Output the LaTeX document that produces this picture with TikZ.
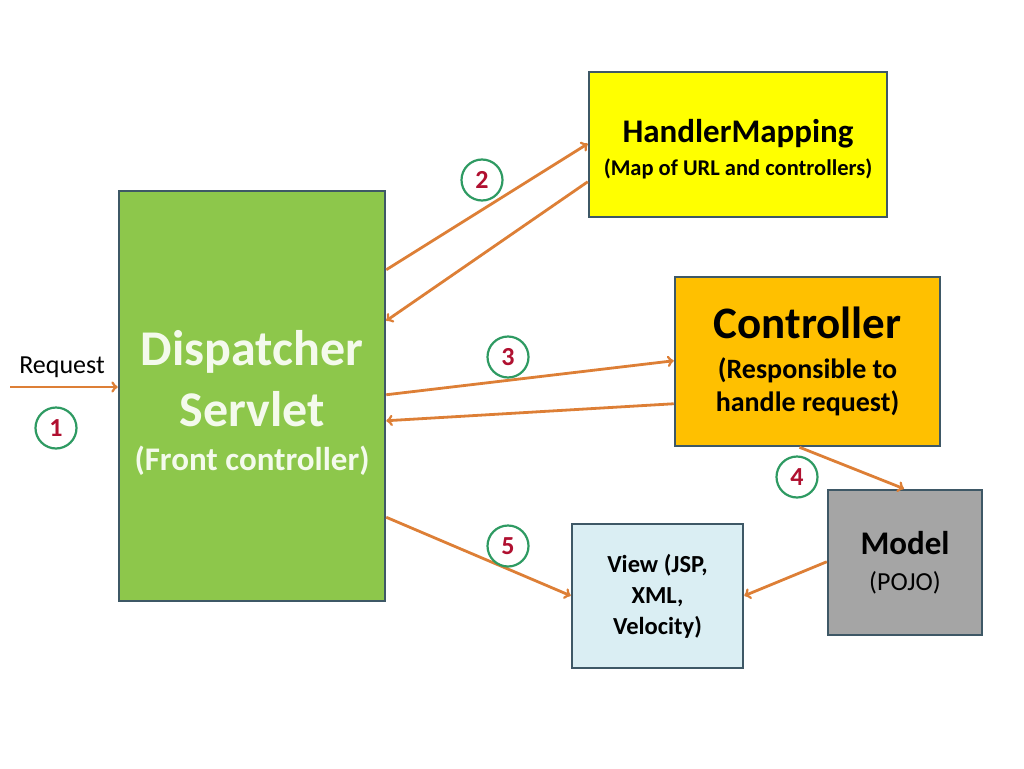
\documentclass[tikz,border=0pt]{standalone}
\usepackage{fontspec}
\setmainfont{Carlito}
\usepackage{tikz}

\definecolor{boxline}{HTML}{3E5866}
\definecolor{dsgreen}{HTML}{8DC74B}
\definecolor{dstext}{HTML}{F4FAEC}
\definecolor{hmyellow}{HTML}{FFFF00}
\definecolor{ctorange}{HTML}{FFC000}
\definecolor{mdgray}{HTML}{A5A5A5}
\definecolor{vwblue}{HTML}{DAEEF3}
\definecolor{arrorange}{HTML}{DD7F36}
\definecolor{stepgreen}{HTML}{2E9A62}
\definecolor{stepred}{HTML}{B01030}

\tikzset{
  box/.style={draw=boxline,line width=2.5pt,inner sep=0pt,align=center},
  flow/.style={->,arrorange,line width=2.8pt},
  stepmark/.style={draw=stepgreen,line width=2.2pt,circle,minimum size=41pt,inner sep=0pt,text=stepred,font=\fontsize{26}{26}\selectfont\bfseries}
}

\begin{document}
\begin{tikzpicture}[x=1pt,y=-1pt]
    \useasboundingbox (0,0) rectangle (1024,768);

    % boxes
    \node[box,fill=dsgreen,minimum width=266pt,minimum height=410pt,text=dstext,font=\bfseries\fontsize{50}{61}\selectfont] (dispatcher) at (252,396)
        {\rule{0pt}{48pt}Dispatcher\\ Servlet\\[-17pt] \fontsize{33}{40}\selectfont (Front controller)};
    \node[box,fill=hmyellow,minimum width=298pt,minimum height=145pt,font=\bfseries\fontsize{33}{33}\selectfont] (handler) at (738,144.5)
        {\rule{0pt}{33pt}HandlerMapping\\ \fontsize{22.5}{27}\selectfont (Map of URL and controllers)};
    \node[box,fill=ctorange,minimum width=265pt,minimum height=169pt,font=\bfseries\fontsize{45}{45}\selectfont] (controller) at (807.5,361.5)
        {Controller\\[-5pt] \fontsize{28}{33}\selectfont (Responsible to\\[-12pt] \fontsize{28}{33}\selectfont handle request)};
    \node[box,fill=mdgray,minimum width=154pt,minimum height=145pt,font=\bfseries\fontsize{33}{36}\selectfont] (model) at (905,562.5)
        {Model\\ \mdseries\fontsize{26}{30}\selectfont (POJO)};
    \node[box,fill=vwblue,minimum width=171pt,minimum height=144pt,font=\bfseries\fontsize{24.5}{31}\selectfont] (view) at (657.5,596)
        {View (JSP,\\ XML,\\ Velocity)};

    % request
    \coordinate (req) at (10,387);
    \node (reqlabel) at (62,367) {\fontsize{26}{26}\selectfont Request};
    \draw[flow] (req) -- (dispatcher.west |- req);

    % arrows
    \draw[flow] ([yshift=-80pt]dispatcher.north east) -- ([yshift=-73pt]handler.north west);
    \draw[flow] ([yshift=-111pt]handler.north west) -- ([yshift=-131pt]dispatcher.north east);
    \draw[flow] ([yshift=-205pt]dispatcher.north east) -- ([yshift=-85pt]controller.north west);
    \draw[flow] ([yshift=-128pt]controller.north west) -- ([yshift=-231pt]dispatcher.north east);
    \draw[flow] ([xshift=-8pt]controller.south) -- ([xshift=-1pt]model.north);
    \draw[flow] ([yshift=85pt]dispatcher.south east) -- ([yshift=-73pt]view.north west);
    \draw[flow] ([yshift=-73pt]model.north west) -- ([yshift=-73pt]view.north east);

    % step numbers
    \node[stepmark] (s1) at (56,428) {1};
    \node[stepmark] (s2) at (482,180) {2};
    \node[stepmark] (s3) at (508,357) {3};
    \node[stepmark] (s4) at (797,477) {4};
    \node[stepmark] (s5) at (508,546) {5};
\end{tikzpicture}
\end{document}
